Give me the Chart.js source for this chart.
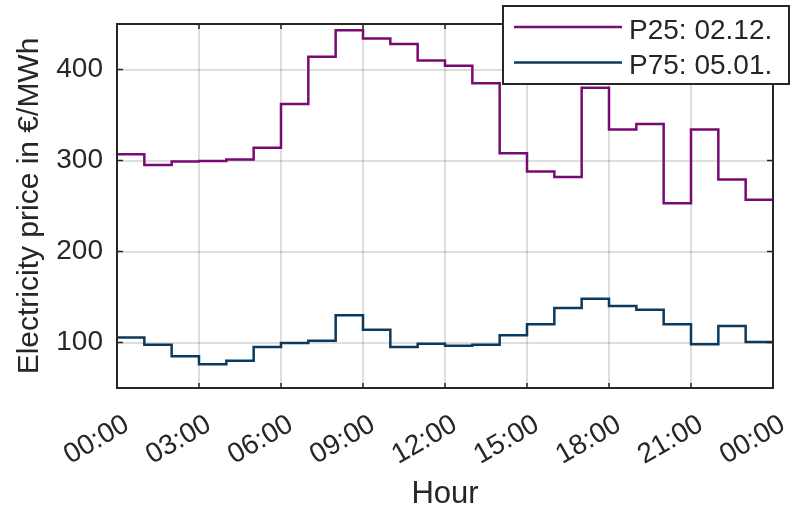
<!DOCTYPE html>
<html>
<head>
<meta charset="utf-8">
<script src="https://cdn.jsdelivr.net/npm/chart.js@4"></script>
<style>
  body { margin: 0; background: #fff; }
</style>
</head>
<body>
<canvas id="priceChart" width="794" height="510"></canvas>
<script>
const hours = [0, 1, 2, 3, 4, 5, 6, 7, 8, 9, 10, 11, 12, 13, 14, 15, 16, 17, 18, 19, 20, 21, 22, 23];
const p25Prices = [307, 295, 299, 299.5, 301, 314, 362, 414, 443, 434, 428, 410, 404, 385,
                   308, 288, 282, 380, 334, 340, 253, 334, 279, 257];
const p75Prices = [105.5, 97.5, 85, 76, 80, 95, 99.5, 102, 130, 114, 95, 98.5, 96.5, 97.5,
                   108, 120, 138, 148, 140, 136, 120, 98, 118, 100.5];
const seriesLabels = ['P25: 02.12.', 'P75: 05.01.'];
const xTickValues = [0, 3, 6, 9, 12, 15, 18, 21, 24];
const xTickLabels = ['00:00', '03:00', '06:00', '09:00', '12:00', '15:00', '18:00', '21:00', '00:00'];
const yTickValues = [100, 200, 300, 400];

const FONT = '"Liberation Sans", Arial, sans-serif';
const TEXT = '#262626';

// step series: each hour holds its value until the next hour, last one until 24:00
function stepPoints(values) {
  const pts = hours.map((h, i) => ({ x: h, y: values[i] }));
  pts.push({ x: hours[hours.length - 1] + 1, y: values[values.length - 1] });
  return pts;
}

const boxAndLegend = {
  id: 'boxAndLegend',
  afterDraw(chart) {
    const { ctx, chartArea: a, scales } = chart;
    ctx.save();
    ctx.strokeStyle = TEXT;
    ctx.lineWidth = 1.5;
    // inward tick marks
    ctx.beginPath();
    xTickValues.forEach(v => {
      const px = scales.x.getPixelForValue(v);
      ctx.moveTo(px, a.bottom); ctx.lineTo(px, a.bottom - 5);
      ctx.moveTo(px, a.top); ctx.lineTo(px, a.top + 5);
    });
    yTickValues.forEach(v => {
      const py = scales.y.getPixelForValue(v);
      ctx.moveTo(a.left, py); ctx.lineTo(a.left + 6, py);
      ctx.moveTo(a.right, py); ctx.lineTo(a.right - 6, py);
    });
    ctx.stroke();
    // axes box
    ctx.lineWidth = 2;
    ctx.strokeRect(a.left, a.top, a.right - a.left, a.bottom - a.top);

    // legend
    const lx = 503, ly = 6, lw = 286, lh = 78;
    ctx.fillStyle = '#fff';
    ctx.fillRect(lx, ly, lw, lh);
    ctx.strokeRect(lx, ly, lw, lh);
    ctx.font = '28px ' + FONT;
    ctx.textBaseline = 'middle';
    chart.data.datasets.forEach((ds, i) => {
      const y = 27 + i * 35.5;
      ctx.strokeStyle = ds.borderColor;
      ctx.lineWidth = 2.5;
      ctx.beginPath();
      ctx.moveTo(514, y);
      ctx.lineTo(622, y);
      ctx.stroke();
      ctx.fillStyle = TEXT;
      ctx.fillText(ds.label, 629, y + 4);
    });
    ctx.restore();
  }
};

const ctx = document.getElementById('priceChart').getContext('2d');
new Chart(ctx, {
  type: 'line',
  data: {
    datasets: [{
      label: seriesLabels[0],
      data: stepPoints(p25Prices),
      borderColor: '#7a0a72',
      borderWidth: 2.5,
      stepped: true,
      pointRadius: 0
    }, {
      label: seriesLabels[1],
      data: stepPoints(p75Prices),
      borderColor: '#0b3a5e',
      borderWidth: 2.5,
      stepped: true,
      pointRadius: 0
    }]
  },
  options: {
    responsive: false,
    animation: false,
    layout: { padding: { top: 24, right: 21, left: 0, bottom: 0 } },
    scales: {
      x: {
        type: 'linear',
        min: 0,
        max: 24,
        afterBuildTicks: scale => { scale.ticks = xTickValues.map(v => ({ value: v })); },
        afterFit: scale => {
          scale.height = 122;
          scale.paddingLeft = 0;
          scale.paddingRight = 0;
        },
        grid: { color: 'rgba(0,0,0,0.13)', lineWidth: 2, drawTicks: false },
        border: { display: false },
        ticks: {
          color: TEXT,
          autoSkip: false,
          minRotation: 30,
          maxRotation: 30,
          padding: 20,
          labelOffset: 10,
          font: { family: FONT, size: 28 },
          callback: (v, i) => xTickLabels[i]
        },
        title: {
          display: true,
          text: 'Hour',
          color: TEXT,
          padding: { top: 0, bottom: 0 },
          font: { family: FONT, size: 31, lineHeight: 1 }
        }
      },
      y: {
        min: 50,
        max: 450,
        afterBuildTicks: scale => { scale.ticks = yTickValues.map(v => ({ value: v })); },
        afterFit: scale => {
          scale.width = 117;
          scale.paddingTop = 0;
          scale.paddingBottom = 0;
        },
        grid: { color: 'rgba(0,0,0,0.13)', lineWidth: 2, drawTicks: false },
        border: { display: false },
        ticks: {
          color: TEXT,
          padding: 14,
          font: { family: FONT, size: 28 }
        },
        title: {
          display: true,
          text: 'Electricity price in €/MWh',
          color: TEXT,
          padding: { top: 15, bottom: 0 },
          font: { family: FONT, size: 30, lineHeight: 1 }
        }
      }
    },
    plugins: {
      legend: { display: false },
      tooltip: { enabled: false }
    }
  },
  plugins: [boxAndLegend]
});
</script>
</body>
</html>
